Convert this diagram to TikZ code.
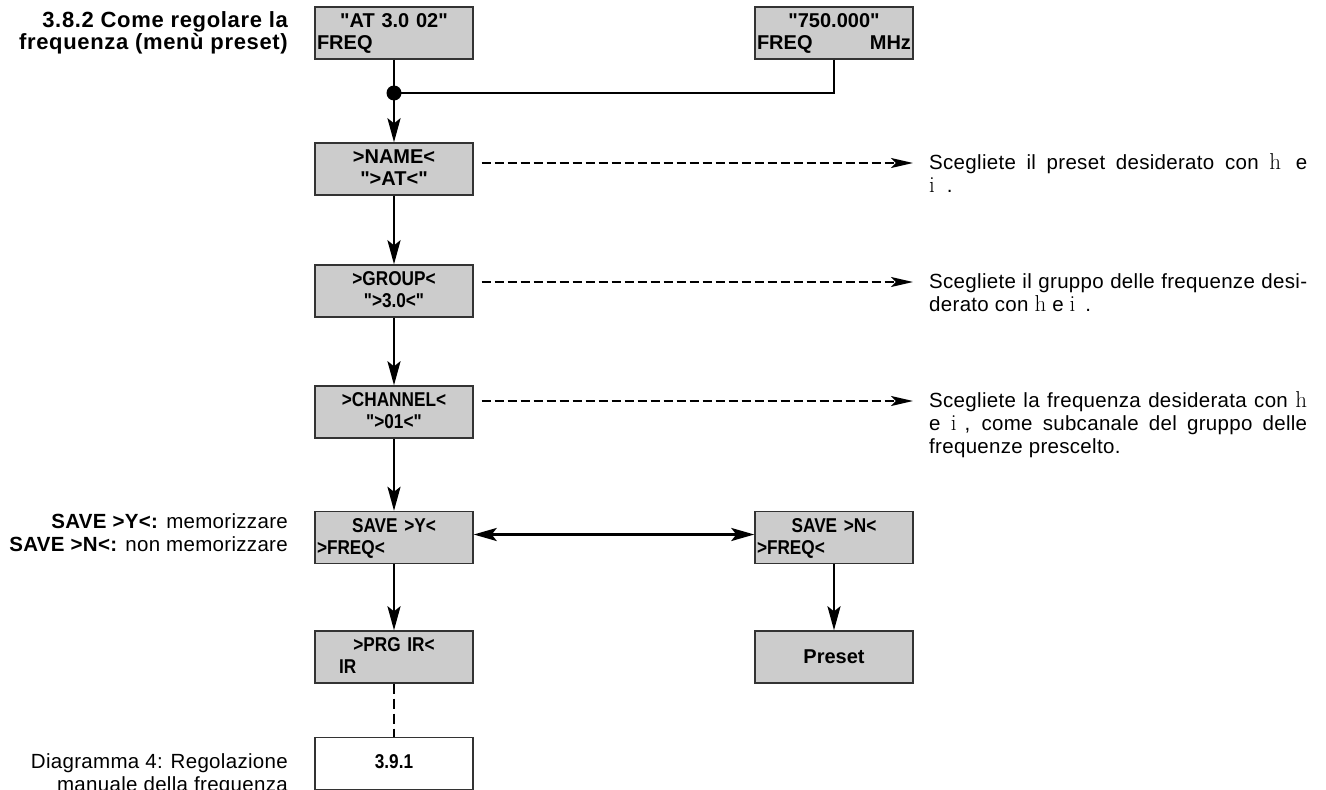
\documentclass[tikz,border=0pt]{standalone}
\usepackage{fontspec}
\usetikzlibrary{arrows.meta,calc}
\newfontfamily\hv[LetterSpace=1.5]{Liberation Sans}
\newfontfamily\hvt[LetterSpace=3]{Liberation Sans}
\newfontfamily\hvb{Liberation Sans}
\newfontfamily\cond[FakeStretch=0.86]{Liberation Sans}
\newcommand\symh{{\rmfamily\fontsize{23}{23}\selectfont h}}
\newcommand\symi{{\rmfamily\fontsize{23}{23}\selectfont i}}
\tikzset{
  box/.style={draw=black!80, line width=1.4pt, fill=black!20,
    minimum width=158pt, minimum height=52pt, inner xsep=2pt, inner ysep=0pt,
    text width=154pt, align=left, text height=14.5pt, text depth=25.5pt,
    font=\hvb\bfseries\fontsize{20}{22}\selectfont},
  cbox/.style={box, font=\cond\bfseries\fontsize{20}{22}\selectfont},
  onebox/.style={draw=black!80, line width=1.4pt, fill=black!20,
    minimum width=158pt, minimum height=52pt, inner sep=0pt,
    text width=154pt, align=center, text height=13.5pt, text depth=0pt,
    font=\hvb\bfseries\fontsize{20}{22}\selectfont},
  conn/.style={line width=2.8pt},
  arr/.style={conn, -{Stealth[length=24pt,width=13pt,inset=5pt]}},
  darr/.style={line width=2pt, dash pattern=on 9pt off 4pt,
    -{Stealth[length=22pt,width=10pt,inset=5pt]}},
  dblarr/.style={conn, {Stealth[length=23pt,width=13pt,inset=5pt]}-{Stealth[length=23pt,width=13pt,inset=5pt]}},
  dline/.style={line width=2.8pt, dash pattern=on 10pt off 5pt},
  txt/.style={inner sep=0pt, font=\hv\fontsize{20.5}{23}\selectfont},
  ttl/.style={inner sep=0pt, font=\hvt\bfseries\fontsize{22}{22}\selectfont},
}
\begin{document}
\begin{tikzpicture}[x=1pt,y=-1pt]
\fill[white] (0,0) rectangle (1326,790);
\useasboundingbox (0,0) rectangle (1326,790);

% left texts
\node[ttl, anchor=base east] (title) at (288,27)
  {\begin{tabular}[t]{@{}r@{}}3.8.2 Come regolare la\\frequenza (menù preset)\end{tabular}};
\node[txt, anchor=base east] (savetxt) at (288,528)
  {\begin{tabular}[t]{@{}r@{}}\textbf{SAVE >Y<:} memorizzare\\\textbf{SAVE >N<:} non memorizzare\end{tabular}};
\node[txt, anchor=base east] (caption) at (288,768)
  {\begin{tabular}[t]{@{}r@{}}Diagramma 4: Regolazione\\manuale della frequenza\end{tabular}};

% boxes
\node[box] (b1) at (394,33) {\makebox[154pt]{"AT 3.0 02"}\\FREQ};
\node[box] (b2) at (834,33) {\makebox[154pt]{"750.000"}\\FREQ\hfill MHz};
\node[box] (name) at (394,169) {\makebox[154pt]{>NAME<}\\\makebox[154pt]{">AT<"}};
\node[cbox] (group) at (394,291) {\makebox[154pt]{>GROUP<}\\\makebox[154pt]{">3.0<"}};
\node[cbox] (chan) at (394,412) {\makebox[154pt]{>CHANNEL<}\\\makebox[154pt]{">01<"}};
\node[cbox] (savey) at (394,537.5) {\makebox[154pt]{SAVE >Y<}\\>FREQ<};
\node[cbox] (saven) at (834,537.5) {\makebox[154pt]{SAVE >N<}\\>FREQ<};
\node[cbox] (prg) at (394,657) {\makebox[154pt]{>PRG IR<}\\\hspace*{22pt}IR};
\node[onebox] (preset) at (834,657) {Preset};
\node[onebox, fill=white, text depth=4pt, font=\cond\bfseries\fontsize{20}{22}\selectfont] (next) at (394,763.5) {3.9.1};

% right texts
\node[txt, anchor=base west] (t1) at (929,169)
  {\begin{tabular}[t]{@{}l@{}}\makebox[378pt][s]{Scegliete il preset desiderato con \symh\hspace{4pt} e}\\\symi\hspace{12pt}.\end{tabular}};
\node[txt, anchor=base west] (t2) at (929,288)
  {\begin{tabular}[t]{@{}l@{}}\makebox[378pt][s]{Scegliete il gruppo delle frequenze desi-}\\derato con \symh\hspace{6pt}e \symi\hspace{10pt}.\end{tabular}};
\node[txt, anchor=base west] (t3) at (929,407)
  {\begin{tabular}[t]{@{}l@{}}\makebox[378pt][s]{Scegliete la frequenza desiderata con \symh}\\\makebox[378pt][s]{e \symi\hspace{8pt}, come subcanale del gruppo delle}\\frequenze prescelto.\end{tabular}};

% connectors
\coordinate (j) at (394,93);
\draw[conn] (b1.south) -- (j);
\draw[conn] (b2.south) |- (j);
\fill (j) circle[radius=7.5pt];
\draw[arr] (j) -- (name.north);
\draw[arr] (name.south) -- (group.north);
\draw[arr] (group.south) -- (chan.north);
\draw[arr] (chan.south) -- (savey.north);
\draw[arr] (savey.south) -- (prg.north);
\draw[arr] (saven.south) -- (preset.north);
\draw[dline] (prg.south) -- (next.north);
\draw[dblarr] ([yshift=3pt]savey.east) -- ([yshift=3pt]saven.west);

\coordinate (e1) at ([xshift=-16pt,yshift=6pt]t1.base west);
\coordinate (e2) at ([xshift=-16pt,yshift=6pt]t2.base west);
\coordinate (e3) at ([xshift=-16pt,yshift=6pt]t3.base west);
\draw[darr] (name.east |- e1) ++(8,0) -- (e1);
\draw[darr] (group.east |- e2) ++(8,0) -- (e2);
\draw[darr] (chan.east |- e3) ++(8,0) -- (e3);
\end{tikzpicture}
\end{document}
